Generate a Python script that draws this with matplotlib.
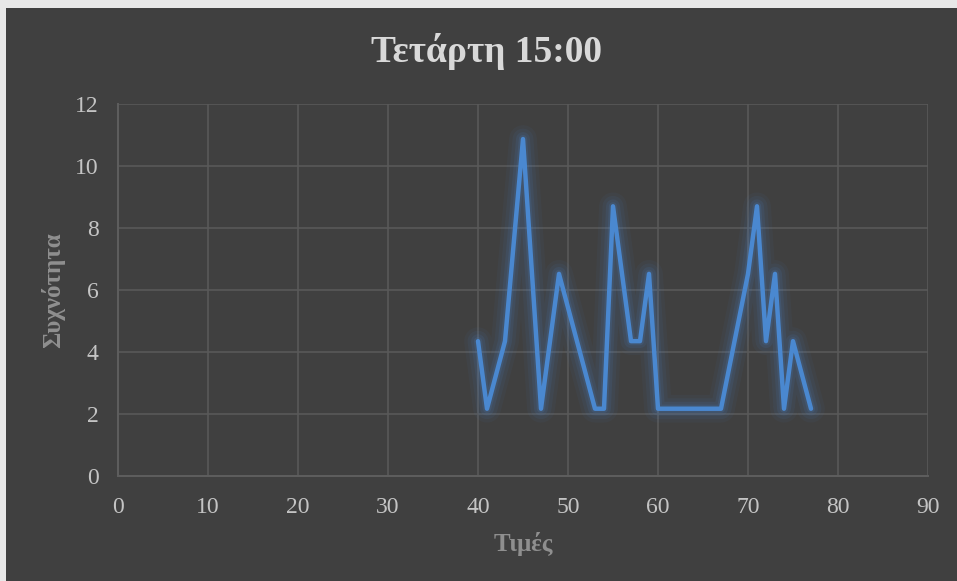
import matplotlib
matplotlib.use("Agg")
import matplotlib.pyplot as plt
from matplotlib.patches import Rectangle

BG = "#404040"
GRID = "#595959"
LINE = "#4A88D0"
TITLE_TXT = "#D9D9D9"
TICK_TXT = "#C4C4C4"
LABEL_TXT = "#8F8F8F"

# value -> relative frequency (%)
values = [40, 41, 43, 45, 47, 49, 53, 54, 55, 57, 58, 59, 60, 67,
          70, 71, 72, 73, 74, 75, 77]
freq = [4.35, 2.17, 4.35, 10.87, 2.17, 6.52, 2.17, 2.17, 8.70, 4.35, 4.35,
        6.52, 2.17, 2.17, 6.52, 8.70, 4.35, 6.52, 2.17, 4.35, 2.17]

x_ticks = list(range(0, 91, 10))
y_ticks = list(range(0, 13, 2))

plt.rcParams["font.family"] = ["Liberation Serif", "DejaVu Serif"]

fig = plt.figure(figsize=(9.57, 5.81), dpi=100, facecolor="#E8E8E8")
# dark chart area with a thin light margin on the left/top
fig.patches.append(Rectangle((6 / 957, 0), 1, 1 - 8 / 581,
                             transform=fig.transFigure, facecolor=BG,
                             edgecolor="none", zorder=-10))

ax = fig.add_axes([118 / 957, 1 - 476 / 581, 810 / 957, 372 / 581])
ax.set_facecolor(BG)

# soft halo under the line
for lw, a in [(20, 0.05), (15, 0.07), (10, 0.10), (6, 0.14)]:
    ax.plot(values, freq, color=LINE, lw=lw, alpha=a,
            solid_joinstyle="round", solid_capstyle="round", zorder=2)
ax.plot(values, freq, color=LINE, lw=3.2, solid_joinstyle="round",
        solid_capstyle="round", zorder=3)

ax.set_xlim(0, 90)
ax.set_ylim(0, 12)
ax.set_xticks(x_ticks)
ax.set_yticks(y_ticks)
ax.grid(True, color=GRID, lw=1.2, zorder=1)
ax.set_axisbelow(True)
for side in ("top", "right"):
    ax.spines[side].set_visible(False)
for side in ("left", "bottom"):
    ax.spines[side].set_color("#5E5E5E")
    ax.spines[side].set_linewidth(1.4)
ax.tick_params(length=0, colors=TICK_TXT, labelsize=17)
ax.tick_params(axis="y", pad=14)
ax.tick_params(axis="x", pad=15)

ax.set_xlabel("Τιμές", color=LABEL_TXT, fontsize=18, fontweight="bold",
              labelpad=10)
ax.set_ylabel("Συχνότητα", color=LABEL_TXT, fontsize=18, fontweight="bold",
              labelpad=7)
fig.text(487 / 957, 1 - 52 / 581, "Τετάρτη 15:00", color=TITLE_TXT,
         fontsize=27, fontweight="bold", ha="center", va="center")

fig.savefig("out.png", dpi=100, facecolor=fig.get_facecolor())
